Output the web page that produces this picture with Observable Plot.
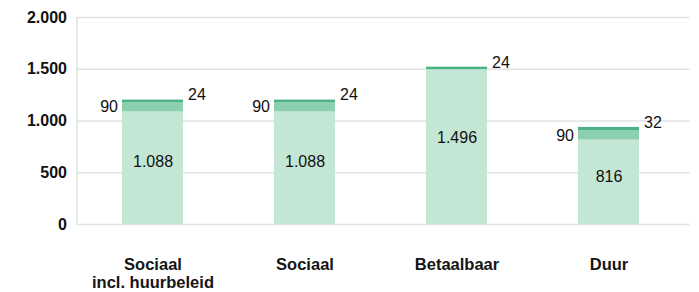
<!DOCTYPE html>
<html><head><meta charset="utf-8">
<script src="https://cdn.jsdelivr.net/npm/d3@7"></script>
<script src="https://cdn.jsdelivr.net/npm/@observablehq/plot@0.6"></script>
<style>body{margin:0;background:#fff;}</style>
</head><body><div id="chart"></div>
<script>
const categories = ["Sociaal\nincl. huurbeleid", "Sociaal", "Betaalbaar", "Duur"];
const baseValues = [1088, 1088, 1496, 816];
const midValues = [90, 90, 0, 90];
const topValues = [24, 24, 24, 32];
const yTicks = [0, 500, 1000, 1500, 2000];
const seriesNames = ["basis", "midden", "top"];
const seriesColors = ["#c3e6d5", "#8bcfae", "#4bb283"];

const nl = d3.formatLocale({decimal: ",", thousands: ".", grouping: [3], currency: ["€ ", ""]});
const fmt = nl.format(",d");

const rows = categories.flatMap((c, i) => [
  {cat: c, series: "basis", value: baseValues[i]},
  {cat: c, series: "midden", value: midValues[i]},
  {cat: c, series: "top", value: topValues[i]}
]);
const labels = categories.map((c, i) => ({cat: c, base: baseValues[i], mid: midValues[i], top: topValues[i]}));

const plot = Plot.plot({
  width: 699, height: 292,
  marginTop: 17, marginBottom: 68, marginLeft: 76.5, marginRight: 14.5,
  style: {fontFamily: "'Liberation Sans', Arial, Helvetica, sans-serif", background: "#fff", color: "#111"},
  x: {domain: categories, paddingInner: 0.6, paddingOuter: 0.3, label: null},
  y: {domain: [0, 2000], label: null},
  color: {domain: seriesNames, range: seriesColors},
  marks: [
    Plot.ruleY(yTicks, {stroke: "#e2e2e2", strokeWidth: 1.5, insetRight: -5}),
    Plot.ruleX([categories[0]], {x: d => d, dx: -76, y1: 0, y2: 2000, stroke: "#e2e2e2", strokeWidth: 1.5}),
    Plot.barY(rows, {x: "cat", y: "value", fill: "series"}),
    Plot.axisY({ticks: yTicks, tickFormat: fmt, tickSize: 0, tickPadding: 10, fontSize: 16, fontWeight: "bold", fill: "#111", label: null}),
    Plot.axisX({tickSize: 0, tickPadding: 32, fontSize: 16.5, fontWeight: "bold", lineHeight: 1.12, fill: "#151515", label: null}),
    Plot.text(labels, {x: "cat", y: d => d.base * 0.56, text: d => fmt(d.base), fontSize: 16, fill: "#111"}),
    Plot.text(labels.filter(d => d.mid > 0), {x: "cat", y: d => d.base + d.mid / 2, text: d => fmt(d.mid), textAnchor: "end", dx: -35, fontSize: 16, fill: "#111"}),
    Plot.text(labels, {x: "cat", y: d => d.base + d.mid + d.top / 2, text: d => fmt(d.top), textAnchor: "start", dx: 35, dy: -6, fontSize: 16, fill: "#111"})
  ]
});
document.getElementById("chart").appendChild(plot);
</script>
</body></html>
